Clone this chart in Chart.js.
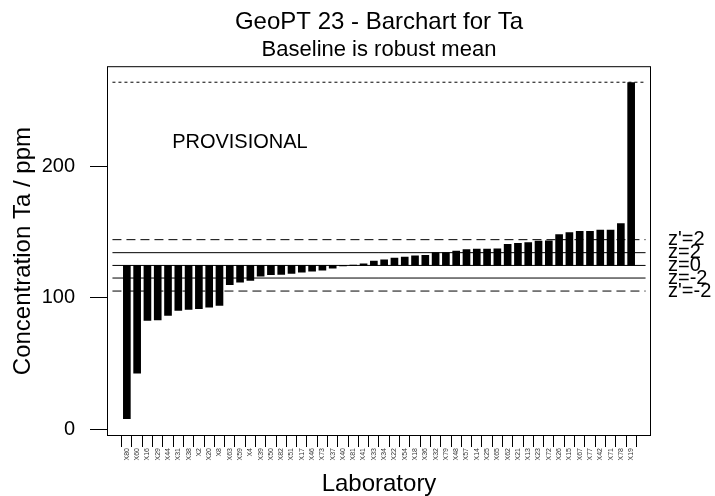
<!DOCTYPE html>
<html>
<head>
<meta charset="utf-8">
<title>GeoPT 23 - Barchart for Ta</title>
<script src="https://cdn.jsdelivr.net/npm/chart.js@4.4.1/dist/chart.umd.min.js"></script>
<style>
  html, body { margin: 0; padding: 0; background: #fff; }
  #wrap { width: 715px; height: 496px; }
</style>
</head>
<body>
<div id="wrap"><canvas id="myChart"></canvas></div>
<script>
// Laboratories, sorted by their reported Ta value
var labs = ['X80', 'X60', 'X16', 'X29', 'X44', 'X31', 'X38', 'X2', 'X20', 'X8',
    'X63', 'X59', 'X4', 'X39', 'X50', 'X82', 'X51', 'X17', 'X46', 'X73',
    'X37', 'X40', 'X81', 'X41', 'X33', 'X34', 'X22', 'X54', 'X18', 'X36',
    'X32', 'X79', 'X48', 'X57', 'X14', 'X25', 'X65', 'X62', 'X21', 'X13',
    'X23', 'X72', 'X26', 'X15', 'X67', 'X77', 'X42', 'X71', 'X78', 'X19'];

// Reported Ta concentrations (ppm)
var taValues = [8.1, 42.8, 82.9, 83.2, 86.7, 90.5, 91.3, 91.8, 93.0, 94.3,
    110.0, 112.0, 113.3, 116.6, 117.6, 117.9, 118.6, 119.6, 120.4, 121.1,
    122.7, 124.3, 124.9, 126.0, 128.0, 129.0, 130.3, 131.0, 132.0, 132.3,
    134.4, 134.4, 135.6, 136.7, 137.1, 137.2, 137.3, 140.8, 141.5, 142.1,
    143.3, 143.4, 148.2, 149.7, 150.6, 150.6, 151.6, 151.6, 156.6, 263.8];

// Baseline (robust mean) and the z / z' limits drawn across the plot
var robustMean = 124.7;
var zValues = [144.3, 134.4, 124.7, 115.1, 105.2];
var zLabels = ["z'=2", 'z=2', 'z=0', 'z=-2', "z'=-2"];
var topLine = 264.1;
var yTicks = [0, 100, 200];

var X_MIN = -1.4, X_MAX = 50.4;
var FONT = "'Liberation Sans', Arial, Helvetica, sans-serif";

Chart.defaults.font.family = FONT;
Chart.defaults.color = '#000';

// frame round the plot area
var boxPlugin = {
    id: 'box',
    afterDatasetsDraw: function (chart) {
        var a = chart.chartArea, c = chart.ctx;
        c.save();
        c.strokeStyle = '#000';
        c.lineWidth = 1;
        c.strokeRect(a.left + 0.5, a.top + 0.5, a.right - a.left - 1, a.bottom - a.top - 1);
        c.restore();
    }
};

// PROVISIONAL note and the labels of the z lines
var notesPlugin = {
    id: 'notes',
    afterDraw: function (chart) {
        var c = chart.ctx, xs = chart.scales.x, ys = chart.scales.y, a = chart.chartArea;
        c.save();
        c.fillStyle = '#000';
        c.font = '20px ' + FONT;
        c.textBaseline = 'middle';
        c.textAlign = 'left';
        c.fillText('PROVISIONAL', xs.getPixelForValue(4.4), ys.getPixelForValue(218));
        zValues.forEach(function (v, i) {
            c.fillText(zLabels[i], a.right + 17, ys.getPixelForValue(v));
        });
        c.restore();
    }
};

function hLine(v, dash) {
    return {
        type: 'line',
        data: [{x: X_MIN, y: v}, {x: X_MAX, y: v}],
        borderColor: '#000',
        borderWidth: 1,
        borderDash: dash,
        pointRadius: 0,
        fill: false,
        order: 0
    };
}

var datasets = [{
    type: 'bar',
    data: taValues.map(function (v, i) { return {x: i, y: v}; }),
    base: robustMean,
    backgroundColor: '#000',
    borderWidth: 0,
    barThickness: 7,
    order: 2
}];
zValues.forEach(function (v, i) {
    datasets.push(hLine(v, zLabels[i].indexOf("'") > 0 ? [9, 5] : []));
});
datasets.push(hLine(topLine, [3, 3]));

var ctx = document.getElementById('myChart').getContext('2d');
var myChart = new Chart(ctx, {
    type: 'bar',
    data: { datasets: datasets },
    options: {
        responsive: true,
        maintainAspectRatio: false,
        animation: false,
        layout: { padding: { left: 0, right: 64, top: 0, bottom: 0 } },
        plugins: {
            legend: { display: false },
            tooltip: { enabled: false },
            title: {
                display: true,
                fullSize: false,
                text: 'GeoPT 23 - Barchart for Ta',
                font: { size: 24, weight: 'normal' },
                color: '#000',
                padding: { top: 8, bottom: 0 }
            },
            subtitle: {
                display: true,
                fullSize: false,
                text: 'Baseline is robust mean',
                font: { size: 22, weight: 'normal' },
                color: '#000',
                padding: { top: 0, bottom: 3 }
            }
        },
        scales: {
            x: {
                type: 'linear',
                min: X_MIN,
                max: X_MAX,
                afterBuildTicks: function (s) {
                    s.ticks = labs.map(function (l, i) { return {value: i}; });
                },
                afterFit: function (s) { s.height = 60; },
                grid: { drawOnChartArea: false, tickLength: 11, color: '#000' },
                border: { display: false },
                ticks: {
                    autoSkip: false,
                    maxRotation: 90,
                    minRotation: 90,
                    padding: 1,
                    font: { size: 7 },
                    color: '#333',
                    callback: function (v) { return labs[v]; }
                },
                title: { display: true, text: 'Laboratory', font: { size: 24, lineHeight: 1 }, padding: { top: 0, bottom: 0 } }
            },
            y: {
                min: -5.1,
                max: 276.3,
                afterBuildTicks: function (s) {
                    s.ticks = yTicks.map(function (v) { return {value: v}; });
                },
                afterFit: function (s) { s.width = 107; },
                grid: { drawOnChartArea: false, tickLength: 17, color: '#000' },
                border: { display: false },
                ticks: { padding: 15, font: { size: 20 }, color: '#000' },
                title: { display: true, text: 'Concentration Ta / ppm', font: { size: 24 }, padding: { top: 9, bottom: 0 } }
            }
        }
    },
    plugins: [boxPlugin, notesPlugin]
});
</script>
</body>
</html>
